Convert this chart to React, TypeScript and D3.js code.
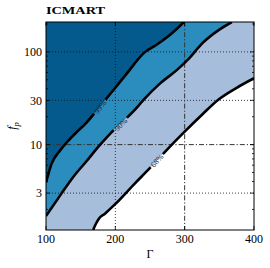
import React from 'react';
import * as d3 from 'd3';

// contour lines, [Gamma, f_p]
const line99 = [[100, 3.9], [108, 6.2], [120, 8.6], [132, 11], [144, 13.6], [156, 16.5], [178, 26], [200, 41], [217, 59], [241, 97], [260, 120], [282, 160], [299, 210]];
const line90 = [[100, 1.7], [120, 2.8], [139, 4.45], [159, 6.7], [175, 9.4], [192, 13], [228, 23.7], [241, 30.5], [265, 46], [289, 64], [305, 83], [326, 125], [350, 174], [368, 210]];
const line68 = [[168, 1.2], [172, 1.4], [176, 1.58], [185, 1.8], [199, 2.25], [228, 3.8], [250, 5.6], [275, 8.9], [300, 13.8], [325, 21], [348, 30.3], [375, 41], [400, 52]];

const levelLabels = ['99%', '90%', '68%'];
const labelPos = [[178, 25.5], [208, 16.5], [260, 6.7]];
const labelAngle = [-51, -46, -48];

const xTicks = [100, 200, 300, 400];
const yTicks = [3, 10, 30, 100];
const yMinor = [2, 4, 5, 6, 7, 8, 9, 20, 40, 50, 60, 70, 80, 90, 200];
const dotGridX = [200];
const dotGridY = [3, 30, 100];
const refX = 300;
const refY = 10;

const fills = ['#a6bddb', '#2b8cbe', '#045a8d'];

const App = () => {
    const left = 46, right = 254, top = 22, bottom = 230;
    const x = d3.scaleLinear().domain([100, 400]).range([left, right]);
    const y = d3.scaleLog().domain([1.2, 210]).range([bottom, top]);
    const [x0, x1] = x.domain();
    const [y0, y1] = y.domain();

    const line = d3.line<number[]>()
        .x(d => x(d[0]))
        .y(d => y(d[1]))
        .curve(d3.curveMonotoneX);

    // areas above each line, closed through top-left corner
    const areas = [
        [...line68, [x1, y1], [x0, y1], [x0, y0]],
        [...line90, [x0, y1]],
        [...line99, [x0, y1]],
    ];
    const areaPath = (pts: number[][], n: number) =>
        line(pts.slice(0, n))! + 'L' + pts.slice(n).map(p => `${x(p[0])},${y(p[1])}`).join('L') + 'Z';

    const font = "'Liberation Serif', 'Times New Roman', serif";

    return (
        <svg width={270} height={268} style={{ position: 'absolute', left: 0, top: 0, background: '#fff' }}>
            <defs>
                <clipPath id="plot">
                    <rect x={left} y={top} width={right - left} height={bottom - top} />
                </clipPath>
                <mask id="gaps">
                    <rect x={0} y={0} width={270} height={268} fill="#fff" />
                    {labelPos.map((p, i) => (
                        <rect key={i} x={-9} y={-5} width={18} height={10} fill="#000"
                            transform={`translate(${x(p[0])},${y(p[1])}) rotate(${labelAngle[i]})`} />
                    ))}
                </mask>
            </defs>
            <g clipPath="url(#plot)">
                <path d={areaPath(areas[0], line68.length)} fill={fills[0]} />
                <path d={areaPath(areas[1], line90.length)} fill={fills[1]} />
                <path d={areaPath(areas[2], line99.length)} fill={fills[2]} />
                {dotGridX.map(v => (
                    <line key={'gx' + v} x1={x(v)} x2={x(v)} y1={top} y2={bottom} stroke="#111" strokeWidth={0.8} strokeDasharray="1,2" />
                ))}
                {dotGridY.map(v => (
                    <line key={'gy' + v} x1={left} x2={right} y1={y(v)} y2={y(v)} stroke="#111" strokeWidth={0.8} strokeDasharray="1,2" />
                ))}
                <line x1={x(refX)} x2={x(refX)} y1={top} y2={bottom} stroke="#333" strokeWidth={1} strokeDasharray="5,2,1.2,2" />
                <line x1={left} x2={right} y1={y(refY)} y2={y(refY)} stroke="#333" strokeWidth={1} strokeDasharray="5,2,1.2,2" />
                <g mask="url(#gaps)" fill="none" stroke="#000" strokeWidth={2.6}>
                    <path d={line(line99)!} />
                    <path d={line(line90)!} />
                    <path d={line(line68)!} />
                </g>
                {labelPos.map((p, i) => (
                    <text key={i} transform={`translate(${x(p[0])},${y(p[1])}) rotate(${labelAngle[i]})`}
                        textAnchor="middle" dy="0.35em" fontSize={8} fontFamily={font} fill="#14202e">
                        {levelLabels[i]}
                    </text>
                ))}
            </g>
            {/* ticks */}
            <g stroke="#000" strokeWidth={0.8}>
                {xTicks.map(v => (
                    <g key={'xt' + v}>
                        <line x1={x(v)} x2={x(v)} y1={bottom} y2={bottom - 4} />
                        <line x1={x(v)} x2={x(v)} y1={top} y2={top + 4} />
                    </g>
                ))}
                {yTicks.map(v => (
                    <g key={'yt' + v}>
                        <line x1={left} x2={left + 4} y1={y(v)} y2={y(v)} />
                        <line x1={right} x2={right - 4} y1={y(v)} y2={y(v)} />
                    </g>
                ))}
                {yMinor.map(v => (
                    <g key={'ym' + v}>
                        <line x1={left} x2={left + 2} y1={y(v)} y2={y(v)} />
                        <line x1={right} x2={right - 2} y1={y(v)} y2={y(v)} />
                    </g>
                ))}
            </g>
            <rect x={left} y={top} width={right - left} height={bottom - top} fill="none" stroke="#000" strokeWidth={1} />
            <g fill="#000" fontFamily={font} fontSize={12}>
                {xTicks.map(v => (
                    <text key={'xl' + v} x={x(v)} y={bottom + 13} textAnchor="middle">{v}</text>
                ))}
                {yTicks.map(v => (
                    <text key={'yl' + v} x={left - 4} y={y(v)} dy="0.35em" textAnchor="end">{v}</text>
                ))}
                <text x={(left + right) / 2} y={258} textAnchor="middle">Γ</text>
                <text transform={`translate(16,${(top + bottom) / 2}) rotate(-90)`} textAnchor="middle" fontStyle="italic">
                    f<tspan fontSize={8.5} dy={3}>p</tspan>
                </text>
                <text x={left} y={13.5} fontSize={10.5} fontWeight="bold" textLength={59} lengthAdjust="spacingAndGlyphs">ICMART</text>
            </g>
        </svg>
    );
};

export default App;
